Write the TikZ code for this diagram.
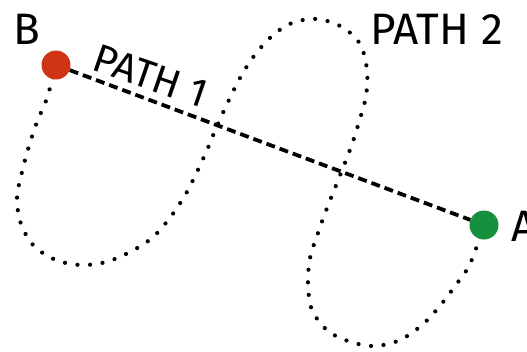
\documentclass[tikz,border=0pt]{standalone}
\usepackage{fontspec}
\setmainfont{Fira Sans}
\usepackage{xcolor}
\usepackage{tikz}
\definecolor{dotB}{HTML}{CF3414}
\definecolor{dotA}{HTML}{16903C}

\begin{document}
\begin{tikzpicture}[x=1pt, y=-1pt, line cap=round,
  endpoint/.style={circle, inner sep=0pt, minimum size=29pt},
  lbl/.style={inner sep=0pt, font=\fontsize{44}{44}\selectfont},
  straight/.style={line width=3.8pt, line cap=butt, dash pattern=on 9pt off 5pt},
  winding/.style={line width=4.2pt, dash pattern=on 0pt off 12.6pt}]
\useasboundingbox (0,0) rectangle (527,351);
\clip (0,0) rectangle (527,351);
\coordinate (pB) at (56,65);
\coordinate (pA) at (484,225);
\draw[winding] plot[smooth, tension=0.55] coordinates {(pB) (47,98) (37,122) (29,146) (22,172) (17,198) (21,224) (34,246) (56,260) (81,265) (106,262) (130,252) (152,238) (169,219) (184,197) (196,174) (207,150) (217,126) (228,102) (240,78) (254,56) (272,36) (292,23) (317,19) (342,27) (360,44) (367,70) (366,96) (359,122) (351,147) (337,183) (327,208) (318,233) (310,258) (308,284) (312,310) (328,331) (351,342) (375,346) (400,340) (422,325) (439,307) (455,286) (470,264) (pA)};
\node[endpoint, fill=dotB] (B) at (pB) {};
\node[endpoint, fill=dotA] (A) at (pA) {};
\draw[straight] (B) -- (A);
\node[lbl] (labelB) at (27,29) {B};
\node[lbl, anchor=west] (labelA) at (511,226) {A};
\node[lbl, rotate=-19, font=\fontsize{40}{40}\selectfont] (path1) at (151,76) {PATH 1};
\node[lbl] (path2) at (437,29) {PATH 2};
\end{tikzpicture}
\end{document}
